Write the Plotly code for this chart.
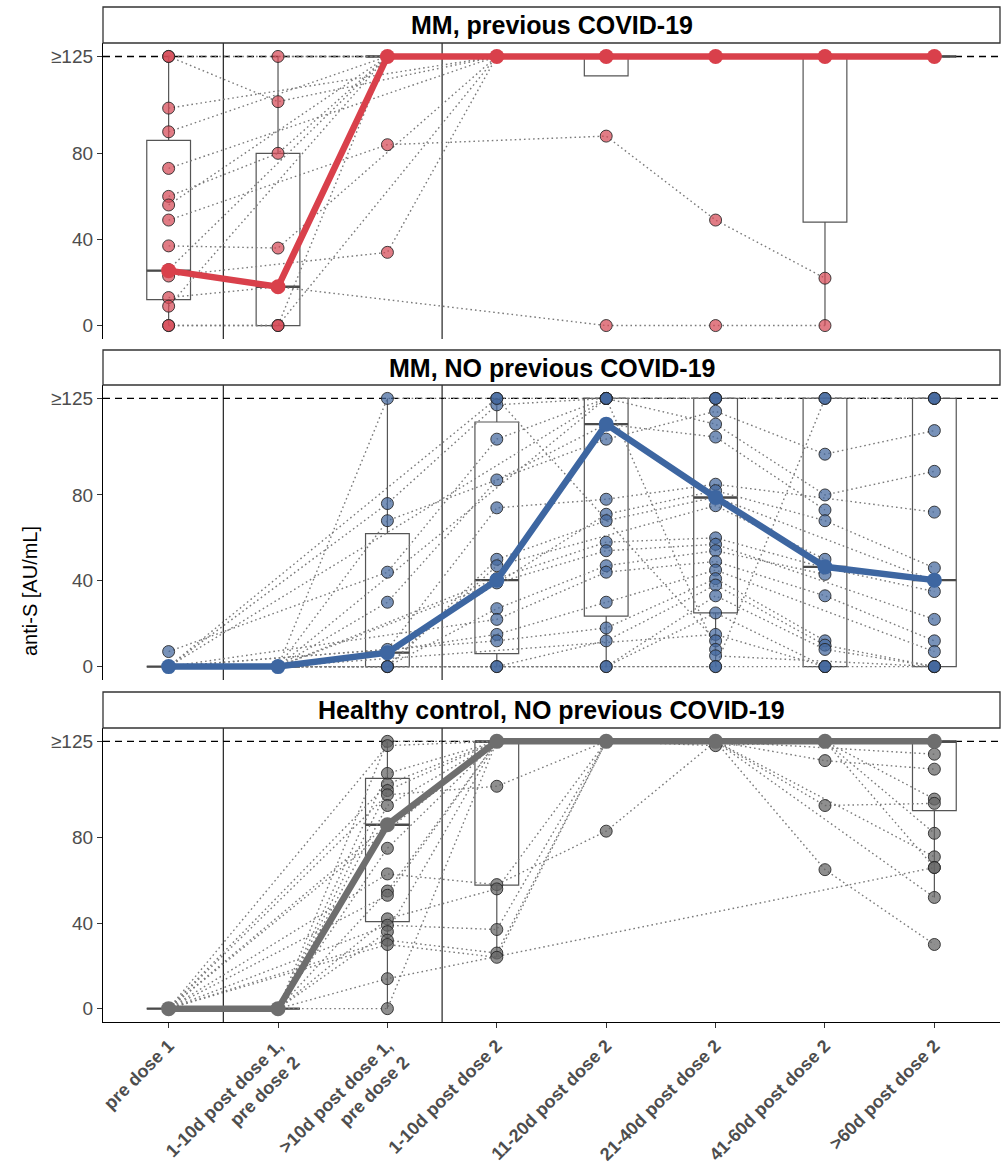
import plotly.graph_objects as go

# ---------------- data ----------------
categories = ["pre dose 1", "1-10d post dose 1,<br>pre dose 2", ">10d post dose 1,<br>pre dose 2",
              "1-10d post dose 2", "11-20d post dose 2", "21-40d post dose 2",
              "41-60d post dose 2", ">60d post dose 2"]
positions = [1, 2, 3, 4, 5, 6, 7, 8]
y_tickvals = [0, 40, 80, 125]
y_ticktext = ["0", "40", "80", "≥125"]
panel_titles = ["MM, previous COVID-19", "MM, NO previous COVID-19",
                "Healthy control, NO previous COVID-19"]
N = None

# individual patient trajectories (one value per timepoint, None = not sampled)
mm_prev_patients = [
    [125, 104, N, 125, N, 125, N, 125],
    [125, N, 125, N, 125, N, 125, N],
    [101, N, N, 125, 125, 125, N, 125],
    [90, N, 125, N, 125, N, 125, 125],
    [73, N, N, 125, N, 125, 125, N],
    [60, 80, 125, N, 125, 125, N, 125],
    [56, N, 125, 125, 125, N, 125, N],
    [49, N, 84, N, 88, 49, 22, N],
    [37, 36, N, 125, N, 125, N, 125],
    [26, N, 125, N, 125, N, N, 125],
    [23, N, 34, 125, N, 125, N, 125],
    [13, 18, N, N, 0, 0, 0, N],
    [9, N, 125, 125, N, 125, 125, N],
    [0, 0, 125, N, 125, N, N, 125],
    [0, 0, N, 125, 125, 125, N, 125],
    [N, 125, 125, 125, N, 125, 125, N],
    [N, N, 125, 125, 125, 125, N, 125],
]
mm_prev_q1 = [12, 0, 125, 125, 116, 125, 48, 125]
mm_prev_median = [25.5, 18, 125, 125, 125, 125, 125, 125]
mm_prev_q3 = [86, 80, 125, 125, 125, 125, 125, 125]
mm_prev_low = [0, 0, 125, 125, 116, 125, 0, 125]
mm_prev_high = [125, 125, 125, 125, 125, 125, 125, 125]

mm_noprev_patients = [
    [0, 0, 125, 125, 125, 125, 125, 125],
    [0, N, 76, 122, 125, 125, N, 125],
    [0, 0, 68, N, 106, 119, 99, 110],
    [7, N, 44, 106, 125, 113, 80, 91],
    [0, 0, 30, 87, 113, 107, 73, N],
    [0, N, 8, 74, 78, 85, N, 72],
    [0, 0, 6.5, N, 71, 82, 68, 46],
    [0, 0, 0, 50, 68, 79, N, 40],
    [0, N, 0, 47, N, 75, 50, N],
    [N, 0, N, 41, 58, 60, 46, 35],
    [0, 0, N, 39, 54, 57, N, 22],
    [N, 0, 0, 27, 47, 54, 43, N],
    [0, N, N, 22, 44, 49, 33, 12],
    [0, 0, N, 15, 30, 45, N, 7],
    [0, N, N, 12, 18, 41, 12, N],
    [N, 0, N, 0, 12, 38, 10, 0],
    [0, 0, N, 0, 0, 33, 8, 0],
    [0, N, N, N, 0, 25, 0, N],
    [N, 0, N, N, N, 15, 0, 0],
    [0, N, N, 125, N, 12, N, N],
    [0, 0, N, N, 125, 8, N, N],
    [N, N, N, N, N, 5, N, 0],
    [0, 0, N, N, N, 0, 125, 125],
    [N, 0, N, N, N, 0, 0, N],
    [0, N, N, N, 125, 125, N, N],
]
mm_noprev_q1 = [0, 0, 0, 6, 23.5, 25, 0, 0]
mm_noprev_median = [0, 0, 6.5, 40.3, 113, 78.8, 46.5, 40.3]
mm_noprev_q3 = [0, 0, 62, 114, 125, 125, 125, 125]
mm_noprev_low = [0, 0, 0, 0, 0, 0, 0, 0]
mm_noprev_high = [0, 0, 125, 125, 125, 125, 125, 125]

hc_patients = [
    [0, 0, 125, 125, 125, 125, 125, 125],
    [0, N, 123, 125, 125, 125, N, 119],
    [0, 0, 110, 125, N, 125, 116, 112],
    [0, N, 105, 125, 125, N, 125, 98],
    [0, 0, 102, 125, 125, 125, 95, 96],
    [0, N, 100, 104, 125, 125, 125, N],
    [0, 0, 95, 125, 125, 123, 125, 82],
    [0, N, 86, 125, N, 125, 65, 30],
    [0, 0, 75, 125, 125, 125, N, 71],
    [0, N, 63, 58, 83, 125, 125, 66],
    [0, 0, 55, 125, 125, N, 125, 125],
    [0, N, 53, 125, 125, 125, N, 52],
    [0, 0, 42, 56, 125, 125, 125, N],
    [0, N, 39, 37, 125, 125, N, 125],
    [0, 0, 36, 125, N, 125, 125, N],
    [0, N, 32, 26, 125, 125, 125, 125],
    [0, 0, 14, N, N, N, N, 66],
    [0, N, 30, 24, 125, N, 125, 125],
    [0, 0, 0, 125, 125, 125, 125, 125],
    [0, N, N, 125, 125, 125, 125, 125],
]
hc_q1 = [0, 0, 40.7, 57.8, 125, 125, 125, 92.6]
hc_median = [0, 0, 86, 125, 125, 125, 125, 125]
hc_q3 = [0, 0, 107.7, 125, 125, 125, 125, 125]
hc_low = [0, 0, 0, 24, 125, 125, 125, 52]
hc_high = [0, 0, 125, 125, 125, 125, 125, 125]

panels = [
    dict(patients=mm_prev_patients, q1=mm_prev_q1, med=mm_prev_median, q3=mm_prev_q3,
         lo=mm_prev_low, hi=mm_prev_high, color="#D9404B", pt="rgba(214,74,86,0.72)"),
    dict(patients=mm_noprev_patients, q1=mm_noprev_q1, med=mm_noprev_median, q3=mm_noprev_q3,
         lo=mm_noprev_low, hi=mm_noprev_high, color="#3D66A1", pt="rgba(68,104,158,0.72)"),
    dict(patients=hc_patients, q1=hc_q1, med=hc_median, q3=hc_q3,
         lo=hc_low, hi=hc_high, color="#6E6E6E", pt="rgba(100,100,100,0.72)"),
]

# ---------------- layout geometry (pixels) ----------------
W, H = 1001, 1165
ML, MR, MT, MB = 103, 1, 7, 143
PH = H - MT - MB


def pyf(px):
    return 1 - (px - MT) / PH


panel_px = [(7, 43, 339), (350, 385, 680), (692, 728, 1022)]
BOXW = 0.4
FONT = "Liberation Sans, Arial, Helvetica, sans-serif"

fig = go.Figure()
shapes = []
annotations = []

for i, p in enumerate(panels):
    sfx = "" if i == 0 else str(i + 1)
    xa, ya = "x" + sfx, "y" + sfx

    # boxplots
    fig.add_trace(go.Box(
        x=positions, q1=p["q1"], median=p["med"], q3=p["q3"],
        lowerfence=p["lo"], upperfence=p["hi"], boxpoints=False, width=BOXW,
        whiskerwidth=0, fillcolor="rgba(255,255,255,0)",
        line=dict(color="#555555", width=1.2), xaxis=xa, yaxis=ya,
        showlegend=False, hoverinfo="skip"))

    # thicker median segments of boxes
    mx, my = [], []
    for pos, m in zip(positions, p["med"]):
        mx += [pos - BOXW / 2, pos + BOXW / 2, None]
        my += [m, m, None]
    fig.add_trace(go.Scatter(x=mx, y=my, mode="lines", line=dict(color="#4a4a4a", width=2.4),
                             xaxis=xa, yaxis=ya, showlegend=False, hoverinfo="skip"))

    # individual trajectories
    lx, ly, px_, py_ = [], [], [], []
    for traj in p["patients"]:
        pts = [(pos, v) for pos, v in zip(positions, traj) if v is not None]
        for pos, v in pts:
            lx.append(pos)
            ly.append(v)
            px_.append(pos)
            py_.append(v)
        lx.append(None)
        ly.append(None)
    fig.add_trace(go.Scatter(x=lx, y=ly, mode="lines",
                             line=dict(color="#7a7a7a", width=1.4, dash="1.6px,3px"),
                             xaxis=xa, yaxis=ya, showlegend=False, hoverinfo="skip"))
    fig.add_trace(go.Scatter(x=px_, y=py_, mode="markers",
                             marker=dict(size=12, color=p["pt"],
                                         line=dict(color="rgba(35,35,35,0.85)", width=1)),
                             xaxis=xa, yaxis=ya, showlegend=False, hoverinfo="skip"))

    # median line
    fig.add_trace(go.Scatter(x=positions, y=p["med"], mode="lines+markers",
                             line=dict(color=p["color"], width=6.5),
                             marker=dict(size=15, color=p["color"]),
                             xaxis=xa, yaxis=ya, showlegend=False, hoverinfo="skip"))

    st, sb, pb = panel_px[i]
    dom = [max(0, pyf(pb)), pyf(sb)]
    axis_common = dict(range=[0.4, 8.6], domain=[0, 1], anchor=ya, showgrid=False, zeroline=False,
                       tickvals=positions, automargin=False)
    if i < 2:
        fig.layout["xaxis" + sfx] = dict(axis_common, showticklabels=False, showline=False, ticks="")
    else:
        fig.layout["xaxis" + sfx] = dict(axis_common, ticktext=categories, showline=True,
                                         linecolor="black", linewidth=1.3, ticks="outside",
                                         ticklen=5, tickcolor="#333333", tickwidth=1.2,
                                         tickangle=-45,
                                         tickfont=dict(family=FONT, size=18, color="#4d4d4d",
                                                       weight="bold"))
    fig.layout["yaxis" + sfx] = dict(range=[-6.25, 131.25], domain=dom, anchor=xa,
                                     showgrid=False, zeroline=False, tickvals=y_tickvals,
                                     ticktext=y_ticktext, showline=True, linecolor="black",
                                     linewidth=1.3, ticks="outside", ticklen=5,
                                     tickcolor="#333333", tickwidth=1.2, automargin=False,
                                     tickfont=dict(family=FONT, size=19, color="#4d4d4d"))

    # reference lines
    for xv in [1.5, 3.5]:
        shapes.append(dict(type="line", xref=xa, yref=ya + " domain", x0=xv, x1=xv, y0=0, y1=1,
                           line=dict(color="#222222", width=1.2), layer="below"))
    shapes.append(dict(type="line", xref=xa + " domain", yref=ya, x0=0, x1=1, y0=125, y1=125,
                       line=dict(color="black", width=1.4, dash="7px,5px"), layer="below"))
    # strip
    shapes.append(dict(type="rect", xref="paper", yref="paper", x0=0, x1=1,
                       y0=pyf(sb), y1=pyf(st), fillcolor="white",
                       line=dict(color="#333333", width=1.3), layer="above"))
    annotations.append(dict(text="<b>" + panel_titles[i] + "</b>", xref="paper", yref="paper",
                            x=0.5, y=(pyf(sb) + pyf(st)) / 2, showarrow=False,
                            xanchor="center", yanchor="middle",
                            font=dict(family=FONT, size=25, color="black")))

annotations.append(dict(text="anti-S [AU/mL]", xref="paper", yref="paper",
                        x=(30 - ML) / (W - ML - MR), y=pyf(591), textangle=-90, showarrow=False,
                        xanchor="center", yanchor="middle",
                        font=dict(family=FONT, size=20, color="black")))

fig.update_layout(width=W, height=H, margin=dict(l=ML, r=MR, t=MT, b=MB, pad=0, autoexpand=False),
                  plot_bgcolor="white", paper_bgcolor="white", shapes=shapes,
                  annotations=annotations, showlegend=False)

fig.write_html("out.html", config={"displayModeBar": False},
               post_script="document.body.style.margin='0';document.body.style.padding='0';"
                           "document.documentElement.style.overflow='hidden';")
